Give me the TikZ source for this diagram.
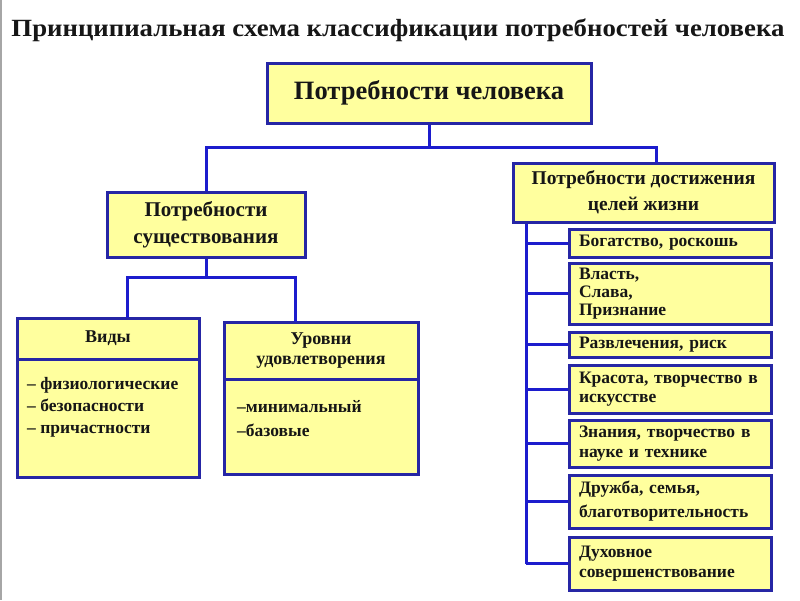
\documentclass[tikz,border=0pt]{standalone}
\usepackage{fontspec}
\setmainfont{Liberation Serif}
\usepackage{graphicx}
\definecolor{boxblue}{RGB}{38,38,165}
\definecolor{linkblue}{RGB}{28,28,205}
\definecolor{pale}{RGB}{255,255,158}
\definecolor{ink}{RGB}{22,22,22}
\tikzset{
  box/.style={draw=boxblue, line width=3pt, fill=pale, inner sep=0pt, text=ink, font=\bfseries},
  link/.style={draw=linkblue, line width=3pt},
  item/.style={box, minimum width=202pt, inner xsep=10pt, text width=182pt, align=left,
    font=\bfseries\fontsize{17.5}{19}\selectfont},
  list/.style={text=ink, inner sep=0pt, align=left, font=\bfseries\fontsize{17.5}{22}\selectfont}
}

\begin{document}
\begin{tikzpicture}[x=1pt,y=-1pt]
\fill[white] (0,0) rectangle (800,600);
\useasboundingbox (0,0) rectangle (800,600);
\draw[gray!70, line width=1.5pt] (1,0) -- (1,600);
\node[anchor=base, text=ink, inner sep=0pt, font=\bfseries\fontsize{26}{30}\selectfont] (title) at (398,36)
  {\resizebox{773pt}{17.7pt}{Принципиальная схема классификации потребностей человека}};

\node[box, minimum width=324pt, minimum height=60pt, font=\bfseries\fontsize{26.5}{30}\selectfont] (need) at (429,93) {Потребности человека};
\node[box, minimum width=198pt, minimum height=65pt, align=center, font=\bfseries\fontsize{21}{27}\selectfont] (exist) at (206,224.5) {Потребности\\существования};
\node[box, minimum width=261pt, minimum height=59pt, align=center, font=\bfseries\fontsize{19.5}{26}\selectfont] (goal) at (643.5,192.5) {Потребности достижения\\целей жизни};

\node[box, minimum width=182pt, minimum height=41pt, font=\bfseries\fontsize{18}{20}\selectfont] (kindshead) at (108,338.5) {Виды};
\node[box, minimum width=182pt, minimum height=118pt] (kindsbody) at (108,418) {};
\node[list, anchor=north west] (kindslist) at (27,377) {– физиологические\\– безопасности\\– причастности};
\node[box, minimum width=194pt, minimum height=57pt, align=center, font=\bfseries\fontsize{18}{20}\selectfont] (lvlhead) at (321,350.5) {Уровни\\удовлетворения};
\node[box, minimum width=194pt, minimum height=95pt] (lvlbody) at (321,426.5) {};
\node[list, anchor=north west, font=\bfseries\fontsize{17.5}{24}\selectfont] (lvllist) at (237,400.5) {–минимальный\\–базовые};

\node[item, minimum height=28pt] (rich) at (670,243) {Богатство, роскошь};
\node[item, minimum height=61pt, font=\bfseries\fontsize{17.5}{18}\selectfont] (power) at (670,293.5) {Власть,\\Слава,\\Признание};
\node[item, minimum height=25pt] (fun) at (670,344.5) {Развлечения, риск};
\node[item, minimum height=48pt] (art) at (670,389) {Красота, творчество в\\искусстве};
\node[item, minimum height=47pt, font=\bfseries\fontsize{17.5}{20}\selectfont] (science) at (670,443.5) {Знания, творчество в\\науке и технике};
\node[item, minimum height=53pt, font=\bfseries\fontsize{17.5}{24}\selectfont] (family) at (670,501.5) {Дружба, семья,\\благотворительность};
\node[item, minimum height=53pt, font=\bfseries\fontsize{17.5}{20}\selectfont] (spirit) at (670,563.5) {Духовное\\совершенствование};

\coordinate (fork1) at (429,147);
\coordinate (goalin) at (656,163);
\draw[link] (need.south) -- (fork1);
\draw[link] (exist.north) |- (fork1) -| (goalin);
\coordinate (fork2) at (206,277);
\coordinate (kindsin) at (127,318);
\coordinate (lvlin) at (295,322);
\draw[link] (exist.south) -- (fork2);
\draw[link] (kindsin) |- (fork2) -| (lvlin);

\coordinate (trunk) at (526,0);
\draw[link] (goal.south -| trunk) -- (spirit.west -| trunk);
\draw[link] (rich.west -| trunk) -- (rich.west);
\draw[link] (power.west -| trunk) -- (power.west);
\draw[link] (fun.west -| trunk) -- (fun.west);
\draw[link] (art.west -| trunk) -- (art.west);
\draw[link] (science.west -| trunk) -- (science.west);
\draw[link] (family.west -| trunk) -- (family.west);
\draw[link] (spirit.west -| trunk) -- (spirit.west);
\end{tikzpicture}
\end{document}
